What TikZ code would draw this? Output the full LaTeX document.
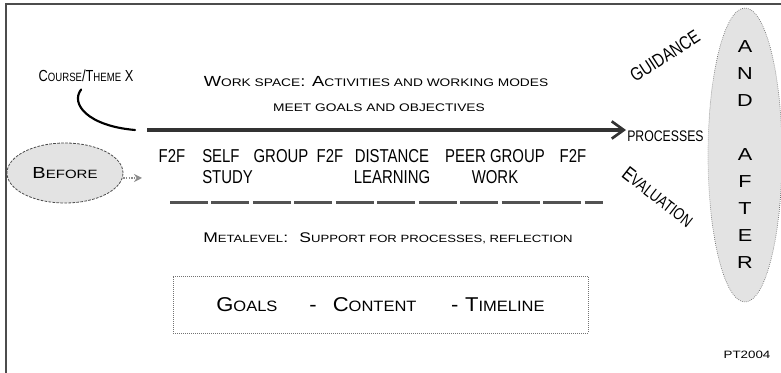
\documentclass[tikz,border=0pt]{standalone}
\usepackage{fontspec}
\setmainfont{Liberation Sans}
\newfontfamily\narrowfont[FakeStretch=0.8]{Liberation Sans}
\newfontfamily\widefont[FakeStretch=1.25]{Liberation Sans}
\newfontfamily\midfont[FakeStretch=1.1]{Liberation Sans}
\usetikzlibrary{arrows.meta,shapes.geometric}
\newcommand{\sm}[1]{\scalebox{0.75}{#1}}
\tikzset{
  halftone/.style={fill=black!11},
  wstext/.style={inner sep=0.75pt,font=\widefont\fontsize{11}{13}\selectfont},
  acttext/.style={inner sep=0.75pt,anchor=north,font=\narrowfont\fontsize{14}{16}\selectfont},
  sidetext/.style={inner sep=0.75pt,font=\narrowfont\fontsize{14}{16}\selectfont},
}

\begin{document}
\begin{tikzpicture}[x=0.75pt,y=0.75pt,yscale=-1,xscale=1]
\useasboundingbox (0,0) rectangle (781,373);

%Frame
\draw [color=black!70, line width=0.8]  (781,4) -- (6,4) -- (6,373) ;

% Text Node
\node [inner sep=0.75pt, font=\narrowfont\fontsize{12}{14}\selectfont] (course) at (86,76) {C\sm{OURSE}/T\sm{HEME} X};
% Text Node
\node [wstext] (workspace) at (376,82) {W\sm{ORK SPACE}: A\sm{CTIVITIES AND WORKING MODES}};
% Text Node
\node [wstext] (goals) at (379,108) {\sm{MEET GOALS AND OBJECTIVES}};
% Text Node
\node [inner sep=0.75pt, font=\narrowfont\fontsize{11.5}{13}\selectfont, anchor=west] (proc) at (626,136) {PROCESSES};
% Text Node
\node [sidetext, rotate=33] (guidance) at (665,56) {GUIDANCE};
% Text Node
\node [sidetext, rotate=-38, font=\narrowfont\fontsize{15}{17}\selectfont] (evaluation) at (658,197) {E{\fontsize{12.5}{14}\selectfont VALUATION}};

%Before
\node [ellipse, halftone, draw=black!70, line width=0.6, dash pattern=on 2pt off 1pt,
       minimum width=87pt, minimum height=45pt, inner sep=0pt,
       font=\widefont\fontsize{12}{14}\selectfont] (before) at (65,173) {B\sm{EFORE}};
\coordinate (beforeTip) at (142,178);
\draw [black!45, densely dotted, line width=1, -{Stealth[length=6pt,width=6pt,fill=black!25]}] (before.east |- beforeTip) -- (beforeTip);

%And after
\node [ellipse, halftone, draw=black!60, line width=0.5, densely dotted,
       minimum width=55.5pt, minimum height=220.5pt, inner sep=0pt] (after) at (745,155) {};
\node [inner sep=0pt, align=center, font=\widefont\fontsize{13}{20.25}\selectfont] (afterlbl) at (after.center)
      {A\\N\\D\\\strut\\A\\F\\T\\E\\R};

%Main arrow
\coordinate (wsStart) at (147,130);
\draw [black!80, line width=2.4, -{Straight Barb[length=9pt,width=13pt,line width=2pt]}] (wsStart) -- (wsStart -| proc.west) ;
%Course curve
\draw [line width=1.6, line cap=round, shorten <=6pt] (course.south) .. controls (70,104) and (88,126) .. (135,130) ;

% Activities
\node [acttext] (f2fa) at (172,148) {F2F};
\node [acttext, align=left, anchor=north west] (self) at (201,148) {SELF\\STUDY};
\node [acttext] (group) at (281,148) {GROUP};
\node [acttext] (f2fb) at (330,148) {F2F};
\node [acttext, align=center] (distance) at (392,148) {DISTANCE\\LEARNING};
\node [acttext, align=center] (peer) at (495,148) {PEER GROUP\\WORK};
\node [acttext] (f2fc) at (573,148) {F2F};

%Metalevel line
\coordinate (metaL) at (170,203);
\coordinate (metaR) at (603,203);
\draw [black!68, line width=2.25, dash pattern=on 28.5pt off 2.6pt] (metaL) -- (metaR) ;

% Text Node
\node [inner sep=0.75pt, font=\widefont\fontsize{10.5}{13}\selectfont] (meta) at (388,238) {M\sm{ETALEVEL}: \ S\sm{UPPORT FOR PROCESSES, REFLECTION}};

%Goals box
\node [draw=black!55, line width=0.5, densely dotted, minimum width=311.25pt, minimum height=42.75pt,
       font=\midfont\fontsize{15}{17}\selectfont] (gct) at (380.5,304.5)
      {G\sm{OALS}\hspace{24pt}-\hspace{12pt}C\sm{ONTENT}\hspace{26pt}-\hspace{5pt}T\sm{IMELINE}};

% Text Node
\node [inner sep=0.75pt, font=\widefont\fontsize{8}{10}\selectfont] (stamp) at (747,355) {PT2004};

\end{tikzpicture}
\end{document}
